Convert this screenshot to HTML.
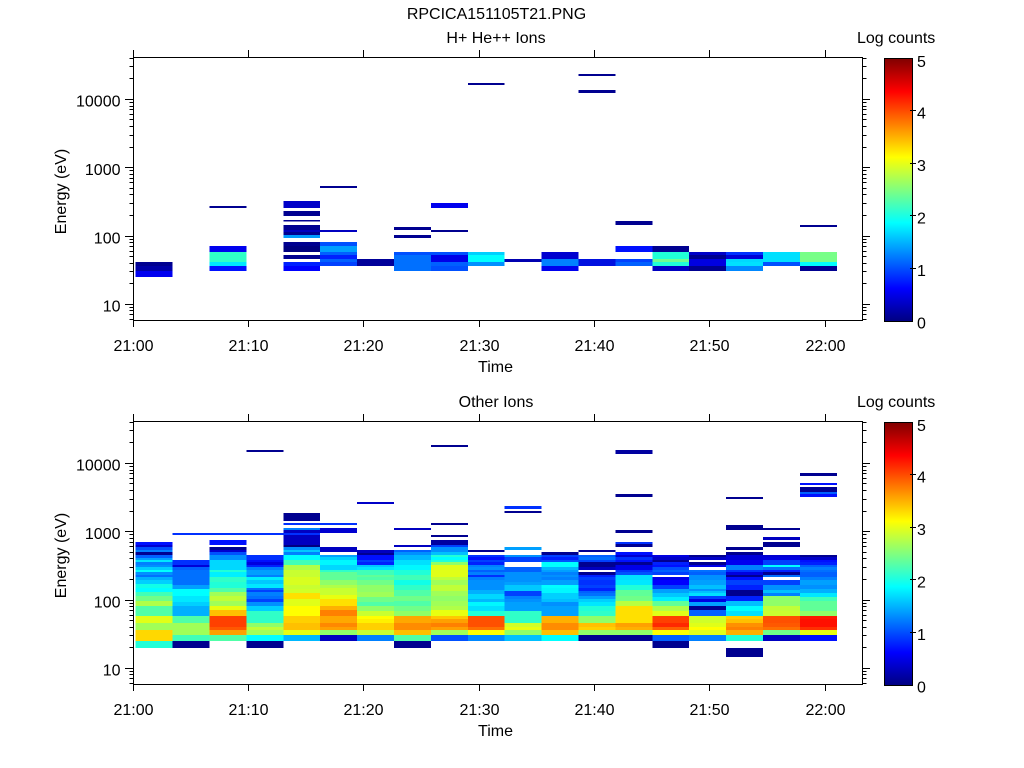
<!DOCTYPE html>
<html><head><meta charset="utf-8"><style>
html,body{margin:0;padding:0;background:#fff;}
svg{display:block;}
text{font-family:"Liberation Sans",Arial,sans-serif;font-size:16px;fill:#000;}
</style></head><body>
<svg width="1024" height="768" viewBox="0 0 1024 768" xmlns="http://www.w3.org/2000/svg">
<defs>
<linearGradient id="jet" x1="0" y1="1" x2="0" y2="0">
<stop offset="0" stop-color="#000080"/>
<stop offset="0.125" stop-color="#0000ff"/>
<stop offset="0.375" stop-color="#00ffff"/>
<stop offset="0.625" stop-color="#ffff00"/>
<stop offset="0.875" stop-color="#ff0000"/>
<stop offset="1" stop-color="#800000"/>
</linearGradient>
</defs>
<rect width="1024" height="768" fill="#fff"/>

<text x="496.5" y="19" text-anchor="middle">RPCICA151105T21.PNG</text>

<!-- ============ TOP PANEL DATA ============ -->
<g shape-rendering="crispEdges">
<g transform="translate(135.7 0)"><rect y="262" width="36.9" height="4" fill="#000090"/><rect y="266" width="36.9" height="5" fill="#0000a8"/><rect y="271" width="36.9" height="6" fill="#0000f0"/></g>
<g transform="translate(209.5 0)"><rect y="206" width="36.9" height="2" fill="#000090"/><rect y="246" width="36.9" height="6" fill="#0000ee"/><rect y="252" width="36.9" height="10" fill="#30ffc8"/><rect y="262" width="36.9" height="4" fill="#00e8ff"/><rect y="266" width="36.9" height="5" fill="#0010ff"/></g>
<g transform="translate(283.3 0)"><rect y="201" width="36.9" height="7" fill="#0000c8"/><rect y="211" width="36.9" height="5" fill="#000090"/><rect y="220" width="36.9" height="1.5" fill="#000090"/><rect y="225" width="36.9" height="5" fill="#000090"/><rect y="230" width="36.9" height="2" fill="#0000c0"/><rect y="232" width="36.9" height="3" fill="#000090"/><rect y="235" width="36.9" height="3" fill="#0099ff"/><rect y="242" width="36.9" height="4" fill="#000090"/><rect y="246" width="36.9" height="6" fill="#000080"/><rect y="255" width="36.9" height="4" fill="#000090"/><rect y="262" width="36.9" height="4" fill="#0020ff"/><rect y="266" width="36.9" height="5" fill="#0000ff"/></g>
<g transform="translate(320.2 0)"><rect y="186" width="36.9" height="2" fill="#000090"/><rect y="230" width="36.9" height="2" fill="#0000c0"/><rect y="242" width="36.9" height="4" fill="#0050ff"/><rect y="246" width="36.9" height="6" fill="#00a0ff"/><rect y="252" width="36.9" height="3" fill="#0060ff"/><rect y="255" width="36.9" height="4" fill="#0020ff"/><rect y="259" width="36.9" height="3" fill="#0060ff"/><rect y="262" width="36.9" height="4" fill="#0040ff"/></g>
<g transform="translate(357.1 0)"><rect y="259" width="36.9" height="7" fill="#00009a"/></g>
<g transform="translate(394.0 0)"><rect y="227" width="36.9" height="3" fill="#000090"/><rect y="235" width="36.9" height="3" fill="#000090"/><rect y="252" width="36.9" height="3" fill="#0050ff"/><rect y="255" width="36.9" height="16" fill="#0070ff"/></g>
<g transform="translate(430.9 0)"><rect y="203" width="36.9" height="5" fill="#0000ee"/><rect y="230" width="36.9" height="2" fill="#000090"/><rect y="252" width="36.9" height="3" fill="#0050ff"/><rect y="255" width="36.9" height="7" fill="#0000e8"/><rect y="262" width="36.9" height="4" fill="#0060ff"/><rect y="266" width="36.9" height="5" fill="#0050ff"/></g>
<g transform="translate(467.8 0)"><rect y="83" width="36.9" height="2" fill="#000090"/><rect y="252" width="36.9" height="3" fill="#00d0ff"/><rect y="255" width="36.9" height="7" fill="#00ffff"/><rect y="262" width="36.9" height="4" fill="#0090ff"/></g>
<g transform="translate(504.7 0)"><rect y="259" width="36.9" height="3" fill="#0000b0"/></g>
<g transform="translate(541.6 0)"><rect y="252" width="36.9" height="7" fill="#0000d0"/><rect y="259" width="36.9" height="7" fill="#0080ff"/><rect y="266" width="36.9" height="5" fill="#0000ee"/></g>
<g transform="translate(578.5 0)"><rect y="74" width="36.9" height="2" fill="#000090"/><rect y="90" width="36.9" height="3" fill="#000090"/><rect y="259" width="36.9" height="7" fill="#0010e0"/></g>
<g transform="translate(615.4 0)"><rect y="221" width="36.9" height="4" fill="#000090"/><rect y="246" width="36.9" height="6" fill="#0010ff"/><rect y="259" width="36.9" height="3" fill="#0040ff"/><rect y="262" width="36.9" height="4" fill="#0060ff"/></g>
<g transform="translate(652.3 0)"><rect y="246" width="36.9" height="6" fill="#000090"/><rect y="252" width="36.9" height="7" fill="#20ffd8"/><rect y="259" width="36.9" height="3" fill="#70ff90"/><rect y="262" width="36.9" height="4" fill="#20ffd8"/><rect y="266" width="36.9" height="5" fill="#0000c0"/></g>
<g transform="translate(689.2 0)"><rect y="252" width="36.9" height="3" fill="#0000c8"/><rect y="255" width="36.9" height="4" fill="#000090"/><rect y="259" width="36.9" height="7" fill="#0000e0"/><rect y="266" width="36.9" height="5" fill="#000090"/></g>
<g transform="translate(726.1 0)"><rect y="252" width="36.9" height="3" fill="#0030ff"/><rect y="255" width="36.9" height="4" fill="#0000d8"/><rect y="259" width="36.9" height="3" fill="#00d8ff"/><rect y="262" width="36.9" height="4" fill="#00e0ff"/><rect y="266" width="36.9" height="5" fill="#0088ff"/></g>
<g transform="translate(763.0 0)"><rect y="252" width="36.9" height="10" fill="#00e0ff"/><rect y="262" width="36.9" height="4" fill="#0050ff"/></g>
<g transform="translate(799.9 0)"><rect y="225" width="36.9" height="2" fill="#000090"/><rect y="252" width="36.9" height="10" fill="#78ff88"/><rect y="262" width="36.9" height="4" fill="#00ffff"/><rect y="266" width="36.9" height="5" fill="#000090"/></g>
</g>

<!-- ============ BOTTOM PANEL DATA ============ -->
<g shape-rendering="crispEdges">
<g transform="translate(135.7 0)">
<rect y="542" width="36.9" height="3" fill="#0010ff"/><rect y="545" width="36.9" height="2" fill="#0000d0"/><rect y="547" width="36.9" height="3" fill="#0050ff"/><rect y="550" width="36.9" height="2" fill="#0080ff"/><rect y="552" width="36.9" height="3" fill="#000090"/><rect y="555" width="36.9" height="3" fill="#0060ff"/><rect y="558" width="36.9" height="2" fill="#00a0ff"/><rect y="560" width="36.9" height="2" fill="#00e8ff"/><rect y="562" width="36.9" height="3" fill="#0080ff"/><rect y="565" width="36.9" height="2" fill="#0090ff"/><rect y="567" width="36.9" height="3" fill="#00d0ff"/><rect y="570" width="36.9" height="2" fill="#00ffff"/><rect y="572" width="36.9" height="3" fill="#0090ff"/><rect y="575" width="36.9" height="2" fill="#0070ff"/><rect y="577" width="36.9" height="3" fill="#00b0ff"/><rect y="580" width="36.9" height="4" fill="#00d0ff"/><rect y="584" width="36.9" height="4" fill="#10ffe8"/><rect y="588" width="36.9" height="4" fill="#00ffff"/><rect y="592" width="36.9" height="4" fill="#40ffb8"/><rect y="596" width="36.9" height="5" fill="#70ff88"/><rect y="601" width="36.9" height="5" fill="#b0ff48"/><rect y="606" width="36.9" height="10" fill="#50ffa8"/><rect y="616" width="36.9" height="7" fill="#e0ff18"/><rect y="623" width="36.9" height="7" fill="#a0ff58"/><rect y="630" width="36.9" height="11" fill="#ffd800"/><rect y="641" width="36.9" height="7" fill="#20ffd8"/></g>
<g transform="translate(172.6 0)">
<rect y="533" width="36.9" height="2" fill="#0030ff"/><rect y="560" width="36.9" height="5" fill="#0030ff"/><rect y="565" width="36.9" height="2" fill="#0000d8"/><rect y="567" width="36.9" height="3" fill="#0060ff"/><rect y="570" width="36.9" height="15" fill="#0070ff"/><rect y="585" width="36.9" height="4" fill="#00a0ff"/><rect y="589" width="36.9" height="7" fill="#00ffff"/><rect y="596" width="36.9" height="6" fill="#00e8ff"/><rect y="602" width="36.9" height="4" fill="#00d0ff"/><rect y="606" width="36.9" height="10" fill="#00b0ff"/><rect y="616" width="36.9" height="7" fill="#50ffa8"/><rect y="623" width="36.9" height="12" fill="#a0ff58"/><rect y="635" width="36.9" height="6" fill="#40ffb8"/><rect y="641" width="36.9" height="7" fill="#000090"/></g>
<g transform="translate(209.5 0)">
<rect y="533" width="36.9" height="2" fill="#0030ff"/><rect y="540" width="36.9" height="5" fill="#0010ff"/><rect y="547" width="36.9" height="3" fill="#000090"/><rect y="550" width="36.9" height="2" fill="#0000d0"/><rect y="552" width="36.9" height="3" fill="#0050ff"/><rect y="555" width="36.9" height="5" fill="#0090ff"/><rect y="560" width="36.9" height="10" fill="#00d8ff"/><rect y="570" width="36.9" height="2" fill="#20ffd8"/><rect y="572" width="36.9" height="5" fill="#00f0ff"/><rect y="577" width="36.9" height="5" fill="#30ffc8"/><rect y="582" width="36.9" height="6" fill="#20ffd8"/><rect y="588" width="36.9" height="4" fill="#50ffa8"/><rect y="592" width="36.9" height="4" fill="#a0ff58"/><rect y="596" width="36.9" height="5" fill="#c0ff38"/><rect y="601" width="36.9" height="5" fill="#a0ff58"/><rect y="606" width="36.9" height="4" fill="#e8ff10"/><rect y="610" width="36.9" height="6" fill="#ffc000"/><rect y="616" width="36.9" height="11" fill="#ff4000"/><rect y="627" width="36.9" height="3" fill="#ff5800"/><rect y="630" width="36.9" height="5" fill="#ffa000"/><rect y="635" width="36.9" height="6" fill="#50ffa8"/></g>
<g transform="translate(246.4 0)">
<rect y="450" width="36.9" height="2" fill="#000090"/><rect y="533" width="36.9" height="2" fill="#0030ff"/><rect y="555" width="36.9" height="5" fill="#0030ff"/><rect y="560" width="36.9" height="2" fill="#0010ff"/><rect y="562" width="36.9" height="3" fill="#0000e0"/><rect y="565" width="36.9" height="2" fill="#0020ff"/><rect y="567" width="36.9" height="3" fill="#0080ff"/><rect y="570" width="36.9" height="5" fill="#00a0ff"/><rect y="575" width="36.9" height="2" fill="#0080ff"/><rect y="577" width="36.9" height="3" fill="#00f0ff"/><rect y="580" width="36.9" height="4" fill="#00c8ff"/><rect y="584" width="36.9" height="4" fill="#00e8ff"/><rect y="588" width="36.9" height="2" fill="#0070ff"/><rect y="590" width="36.9" height="2" fill="#0040ff"/><rect y="592" width="36.9" height="4" fill="#0080ff"/><rect y="596" width="36.9" height="3" fill="#0070ff"/><rect y="599" width="36.9" height="3" fill="#0040ff"/><rect y="602" width="36.9" height="4" fill="#0090ff"/><rect y="606" width="36.9" height="5" fill="#00d0ff"/><rect y="611" width="36.9" height="12" fill="#30ffc8"/><rect y="623" width="36.9" height="4" fill="#90ff68"/><rect y="627" width="36.9" height="3" fill="#c0ff38"/><rect y="630" width="36.9" height="5" fill="#a0ff58"/><rect y="635" width="36.9" height="6" fill="#00ffff"/><rect y="641" width="36.9" height="7" fill="#000090"/></g>
<g transform="translate(283.3 0)">
<rect y="513" width="36.9" height="8" fill="#000090"/><rect y="523" width="36.9" height="2" fill="#0030ff"/><rect y="528" width="36.9" height="2" fill="#0080ff"/><rect y="530" width="36.9" height="3" fill="#0000c0"/><rect y="533" width="36.9" height="2" fill="#0030ff"/><rect y="535" width="36.9" height="10" fill="#0000c0"/><rect y="545" width="36.9" height="2" fill="#000080"/><rect y="547" width="36.9" height="3" fill="#0090ff"/><rect y="550" width="36.9" height="2" fill="#00c8ff"/><rect y="552" width="36.9" height="3" fill="#0080ff"/><rect y="555" width="36.9" height="5" fill="#00ffff"/><rect y="560" width="36.9" height="5" fill="#40ffb8"/><rect y="565" width="36.9" height="5" fill="#b0ff48"/><rect y="570" width="36.9" height="7" fill="#c8ff30"/><rect y="577" width="36.9" height="8" fill="#d8ff20"/><rect y="585" width="36.9" height="4" fill="#c8ff30"/><rect y="589" width="36.9" height="4" fill="#d0ff28"/><rect y="593" width="36.9" height="6" fill="#ffe000"/><rect y="599" width="36.9" height="7" fill="#e0ff18"/><rect y="606" width="36.9" height="10" fill="#ffff00"/><rect y="616" width="36.9" height="7" fill="#ffd000"/><rect y="623" width="36.9" height="7" fill="#ffc000"/><rect y="630" width="36.9" height="5" fill="#e8ff10"/><rect y="635" width="36.9" height="6" fill="#00b8ff"/></g>
<g transform="translate(320.2 0)">
<rect y="523" width="36.9" height="2" fill="#0030ff"/><rect y="528" width="36.9" height="5" fill="#0000d0"/><rect y="547" width="36.9" height="5" fill="#0000c0"/><rect y="555" width="36.9" height="2" fill="#00a0ff"/><rect y="557" width="36.9" height="3" fill="#00d0ff"/><rect y="560" width="36.9" height="5" fill="#00f8ff"/><rect y="565" width="36.9" height="5" fill="#00d8ff"/><rect y="570" width="36.9" height="2" fill="#30ffc8"/><rect y="572" width="36.9" height="8" fill="#60ff98"/><rect y="580" width="36.9" height="5" fill="#90ff68"/><rect y="585" width="36.9" height="3" fill="#b0ff48"/><rect y="588" width="36.9" height="7" fill="#c8ff30"/><rect y="595" width="36.9" height="4" fill="#e8ff10"/><rect y="599" width="36.9" height="7" fill="#ffe000"/><rect y="606" width="36.9" height="4" fill="#ffb000"/><rect y="610" width="36.9" height="6" fill="#ff8000"/><rect y="616" width="36.9" height="7" fill="#ffa800"/><rect y="623" width="36.9" height="4" fill="#ff8800"/><rect y="627" width="36.9" height="3" fill="#ffa000"/><rect y="630" width="36.9" height="5" fill="#90ff68"/><rect y="635" width="36.9" height="6" fill="#0000c0"/></g>
<g transform="translate(357.1 0)">
<rect y="502" width="36.9" height="2" fill="#0000c8"/><rect y="550" width="36.9" height="3" fill="#0000c0"/><rect y="553" width="36.9" height="2" fill="#000090"/><rect y="555" width="36.9" height="5" fill="#0010ff"/><rect y="560" width="36.9" height="2" fill="#0040ff"/><rect y="562" width="36.9" height="3" fill="#0020ff"/><rect y="565" width="36.9" height="2" fill="#00c8ff"/><rect y="567" width="36.9" height="3" fill="#00e8ff"/><rect y="570" width="36.9" height="5" fill="#40ffb8"/><rect y="575" width="36.9" height="2" fill="#60ff98"/><rect y="577" width="36.9" height="3" fill="#50ffa8"/><rect y="580" width="36.9" height="5" fill="#70ff88"/><rect y="585" width="36.9" height="7" fill="#90ff68"/><rect y="592" width="36.9" height="5" fill="#a0ff58"/><rect y="597" width="36.9" height="5" fill="#70ff88"/><rect y="602" width="36.9" height="4" fill="#50ffa8"/><rect y="606" width="36.9" height="5" fill="#90ff68"/><rect y="611" width="36.9" height="5" fill="#c8ff30"/><rect y="616" width="36.9" height="3" fill="#ffff00"/><rect y="619" width="36.9" height="4" fill="#fff000"/><rect y="623" width="36.9" height="7" fill="#ffd000"/><rect y="630" width="36.9" height="5" fill="#c8ff30"/><rect y="635" width="36.9" height="6" fill="#0080ff"/></g>
<g transform="translate(394.0 0)">
<rect y="528" width="36.9" height="2" fill="#0000c0"/><rect y="545" width="36.9" height="2" fill="#0000c0"/><rect y="550" width="36.9" height="2" fill="#0060ff"/><rect y="552" width="36.9" height="3" fill="#0090ff"/><rect y="555" width="36.9" height="5" fill="#00b8ff"/><rect y="560" width="36.9" height="5" fill="#00e0ff"/><rect y="565" width="36.9" height="5" fill="#00f8ff"/><rect y="570" width="36.9" height="5" fill="#20ffd8"/><rect y="575" width="36.9" height="5" fill="#40ffb8"/><rect y="580" width="36.9" height="5" fill="#10ffe8"/><rect y="585" width="36.9" height="5" fill="#30ffc8"/><rect y="590" width="36.9" height="6" fill="#50ffa8"/><rect y="596" width="36.9" height="5" fill="#70ff88"/><rect y="601" width="36.9" height="5" fill="#50ffa8"/><rect y="606" width="36.9" height="5" fill="#70ff88"/><rect y="611" width="36.9" height="5" fill="#90ff68"/><rect y="616" width="36.9" height="7" fill="#ffa800"/><rect y="623" width="36.9" height="7" fill="#ff8c00"/><rect y="630" width="36.9" height="5" fill="#ffc000"/><rect y="635" width="36.9" height="6" fill="#50ffa8"/><rect y="641" width="36.9" height="7" fill="#000090"/></g>
<g transform="translate(430.9 0)">
<rect y="445" width="36.9" height="2" fill="#000090"/><rect y="523" width="36.9" height="2" fill="#000090"/><rect y="535" width="36.9" height="2" fill="#000090"/><rect y="540" width="36.9" height="5" fill="#0000a0"/><rect y="545" width="36.9" height="2" fill="#0040ff"/><rect y="547" width="36.9" height="5" fill="#0090ff"/><rect y="552" width="36.9" height="3" fill="#00c0ff"/><rect y="555" width="36.9" height="2" fill="#20ffd8"/><rect y="557" width="36.9" height="3" fill="#00ffff"/><rect y="560" width="36.9" height="2" fill="#20ffd8"/><rect y="562" width="36.9" height="3" fill="#90ff68"/><rect y="565" width="36.9" height="12" fill="#e0ff18"/><rect y="577" width="36.9" height="3" fill="#c0ff38"/><rect y="580" width="36.9" height="5" fill="#a0ff58"/><rect y="585" width="36.9" height="6" fill="#c0ff38"/><rect y="591" width="36.9" height="5" fill="#a0ff58"/><rect y="596" width="36.9" height="5" fill="#90ff68"/><rect y="601" width="36.9" height="5" fill="#a0ff58"/><rect y="606" width="36.9" height="4" fill="#b0ff48"/><rect y="610" width="36.9" height="6" fill="#e8ff10"/><rect y="616" width="36.9" height="3" fill="#ffc800"/><rect y="619" width="36.9" height="4" fill="#ffa000"/><rect y="623" width="36.9" height="4" fill="#ff8000"/><rect y="627" width="36.9" height="3" fill="#ffa000"/><rect y="630" width="36.9" height="5" fill="#a0ff58"/><rect y="635" width="36.9" height="6" fill="#0050ff"/></g>
<g transform="translate(467.8 0)">
<rect y="550" width="36.9" height="2" fill="#000090"/><rect y="555" width="36.9" height="2" fill="#0030ff"/><rect y="557" width="36.9" height="3" fill="#0010ff"/><rect y="560" width="36.9" height="2" fill="#0040ff"/><rect y="562" width="36.9" height="3" fill="#0020ff"/><rect y="565" width="36.9" height="2" fill="#0080ff"/><rect y="567" width="36.9" height="3" fill="#0090ff"/><rect y="570" width="36.9" height="2" fill="#0060ff"/><rect y="572" width="36.9" height="3" fill="#0080ff"/><rect y="575" width="36.9" height="2" fill="#0030ff"/><rect y="577" width="36.9" height="3" fill="#0080ff"/><rect y="580" width="36.9" height="10" fill="#0090ff"/><rect y="590" width="36.9" height="4" fill="#00b0ff"/><rect y="594" width="36.9" height="5" fill="#00d8ff"/><rect y="599" width="36.9" height="3" fill="#00b8ff"/><rect y="602" width="36.9" height="4" fill="#00f8ff"/><rect y="606" width="36.9" height="5" fill="#00e0ff"/><rect y="611" width="36.9" height="5" fill="#20ffd8"/><rect y="616" width="36.9" height="11" fill="#ff5000"/><rect y="627" width="36.9" height="3" fill="#ff7000"/><rect y="630" width="36.9" height="5" fill="#ffff00"/><rect y="635" width="36.9" height="6" fill="#0088ff"/></g>
<g transform="translate(504.7 0)">
<rect y="506" width="36.9" height="3" fill="#0030ff"/><rect y="511" width="36.9" height="2" fill="#000090"/><rect y="547" width="36.9" height="3" fill="#00a0ff"/><rect y="555" width="36.9" height="2" fill="#0090ff"/><rect y="557" width="36.9" height="5" fill="#0040ff"/><rect y="567" width="36.9" height="5" fill="#0060ff"/><rect y="572" width="36.9" height="10" fill="#0090ff"/><rect y="582" width="36.9" height="3" fill="#00a0ff"/><rect y="585" width="36.9" height="6" fill="#00c8ff"/><rect y="591" width="36.9" height="5" fill="#0040ff"/><rect y="596" width="36.9" height="3" fill="#0080ff"/><rect y="599" width="36.9" height="3" fill="#0090ff"/><rect y="602" width="36.9" height="9" fill="#00a0ff"/><rect y="611" width="36.9" height="12" fill="#30ffc8"/><rect y="623" width="36.9" height="4" fill="#d0ff28"/><rect y="627" width="36.9" height="3" fill="#e8ff10"/><rect y="630" width="36.9" height="5" fill="#90ff68"/><rect y="635" width="36.9" height="6" fill="#00c0ff"/></g>
<g transform="translate(541.6 0)">
<rect y="552" width="36.9" height="3" fill="#000090"/><rect y="555" width="36.9" height="2" fill="#0040ff"/><rect y="557" width="36.9" height="3" fill="#0020ff"/><rect y="560" width="36.9" height="2" fill="#0050ff"/><rect y="562" width="36.9" height="5" fill="#00ffff"/><rect y="567" width="36.9" height="3" fill="#00b8ff"/><rect y="570" width="36.9" height="2" fill="#00a0ff"/><rect y="572" width="36.9" height="3" fill="#0080ff"/><rect y="575" width="36.9" height="2" fill="#0090ff"/><rect y="577" width="36.9" height="3" fill="#0080ff"/><rect y="580" width="36.9" height="5" fill="#00a0ff"/><rect y="585" width="36.9" height="3" fill="#00ffff"/><rect y="588" width="36.9" height="5" fill="#00f8ff"/><rect y="593" width="36.9" height="6" fill="#00d0ff"/><rect y="599" width="36.9" height="3" fill="#00c0ff"/><rect y="602" width="36.9" height="4" fill="#0090ff"/><rect y="606" width="36.9" height="10" fill="#00a0ff"/><rect y="616" width="36.9" height="7" fill="#ffb000"/><rect y="623" width="36.9" height="7" fill="#ff8c00"/><rect y="630" width="36.9" height="5" fill="#ffc000"/><rect y="635" width="36.9" height="6" fill="#00ffff"/></g>
<g transform="translate(578.5 0)">
<rect y="550" width="36.9" height="2" fill="#000090"/><rect y="555" width="36.9" height="2" fill="#0060ff"/><rect y="557" width="36.9" height="3" fill="#0070ff"/><rect y="560" width="36.9" height="2" fill="#0040ff"/><rect y="562" width="36.9" height="5" fill="#000090"/><rect y="567" width="36.9" height="3" fill="#0000c0"/><rect y="572" width="36.9" height="3" fill="#000090"/><rect y="575" width="36.9" height="2" fill="#0020ff"/><rect y="577" width="36.9" height="3" fill="#0040ff"/><rect y="580" width="36.9" height="5" fill="#0030ff"/><rect y="585" width="36.9" height="3" fill="#0040ff"/><rect y="588" width="36.9" height="3" fill="#0020ff"/><rect y="591" width="36.9" height="2" fill="#0060ff"/><rect y="593" width="36.9" height="3" fill="#0070ff"/><rect y="596" width="36.9" height="3" fill="#00a0ff"/><rect y="599" width="36.9" height="3" fill="#00d0ff"/><rect y="602" width="36.9" height="4" fill="#00e8ff"/><rect y="606" width="36.9" height="5" fill="#20ffd8"/><rect y="611" width="36.9" height="5" fill="#30ffc8"/><rect y="616" width="36.9" height="7" fill="#90ff68"/><rect y="623" width="36.9" height="4" fill="#ffc000"/><rect y="627" width="36.9" height="3" fill="#ffd000"/><rect y="630" width="36.9" height="5" fill="#90ff68"/><rect y="635" width="36.9" height="6" fill="#000090"/></g>
<g transform="translate(615.4 0)">
<rect y="450" width="36.9" height="4" fill="#0000a0"/><rect y="494" width="36.9" height="3" fill="#000090"/><rect y="530" width="36.9" height="3" fill="#000090"/><rect y="542" width="36.9" height="2" fill="#0030ff"/><rect y="544" width="36.9" height="3" fill="#000090"/><rect y="552" width="36.9" height="3" fill="#0010ff"/><rect y="555" width="36.9" height="2" fill="#0000d0"/><rect y="557" width="36.9" height="3" fill="#0030ff"/><rect y="560" width="36.9" height="2" fill="#0010ff"/><rect y="562" width="36.9" height="3" fill="#000090"/><rect y="565" width="36.9" height="5" fill="#0000e8"/><rect y="570" width="36.9" height="2" fill="#0030ff"/><rect y="572" width="36.9" height="3" fill="#0050ff"/><rect y="575" width="36.9" height="5" fill="#00e0ff"/><rect y="580" width="36.9" height="5" fill="#00e8ff"/><rect y="585" width="36.9" height="5" fill="#20ffd8"/><rect y="590" width="36.9" height="6" fill="#60ff98"/><rect y="596" width="36.9" height="5" fill="#70ff88"/><rect y="601" width="36.9" height="5" fill="#b8ff40"/><rect y="606" width="36.9" height="17" fill="#ffe000"/><rect y="623" width="36.9" height="4" fill="#ffa000"/><rect y="627" width="36.9" height="3" fill="#ffb000"/><rect y="630" width="36.9" height="5" fill="#90ff68"/><rect y="635" width="36.9" height="6" fill="#000090"/></g>
<g transform="translate(652.3 0)">
<rect y="555" width="36.9" height="2" fill="#0000e0"/><rect y="557" width="36.9" height="3" fill="#0000c8"/><rect y="560" width="36.9" height="2" fill="#000090"/><rect y="562" width="36.9" height="3" fill="#0020ff"/><rect y="565" width="36.9" height="2" fill="#0010ff"/><rect y="567" width="36.9" height="3" fill="#0050ff"/><rect y="570" width="36.9" height="2" fill="#0060ff"/><rect y="572" width="36.9" height="3" fill="#0040ff"/><rect y="577" width="36.9" height="3" fill="#0000e8"/><rect y="580" width="36.9" height="5" fill="#0000ff"/><rect y="585" width="36.9" height="4" fill="#0040ff"/><rect y="589" width="36.9" height="4" fill="#00a0ff"/><rect y="593" width="36.9" height="4" fill="#00c8ff"/><rect y="597" width="36.9" height="4" fill="#00f0ff"/><rect y="601" width="36.9" height="5" fill="#60ff98"/><rect y="606" width="36.9" height="5" fill="#b0ff48"/><rect y="611" width="36.9" height="5" fill="#e0ff18"/><rect y="616" width="36.9" height="7" fill="#ff4000"/><rect y="623" width="36.9" height="4" fill="#ff2800"/><rect y="627" width="36.9" height="3" fill="#ff6000"/><rect y="630" width="36.9" height="5" fill="#ffff00"/><rect y="635" width="36.9" height="6" fill="#0060ff"/><rect y="641" width="36.9" height="7" fill="#000090"/></g>
<g transform="translate(689.2 0)">
<rect y="555" width="36.9" height="2" fill="#000090"/><rect y="557" width="36.9" height="3" fill="#0000c8"/><rect y="562" width="36.9" height="3" fill="#000090"/><rect y="565" width="36.9" height="2" fill="#0000e8"/><rect y="570" width="36.9" height="2" fill="#0070ff"/><rect y="572" width="36.9" height="3" fill="#0060ff"/><rect y="575" width="36.9" height="5" fill="#0090ff"/><rect y="580" width="36.9" height="5" fill="#00a0ff"/><rect y="585" width="36.9" height="4" fill="#00c0ff"/><rect y="589" width="36.9" height="2" fill="#0090ff"/><rect y="591" width="36.9" height="2" fill="#00c0ff"/><rect y="593" width="36.9" height="3" fill="#00e0ff"/><rect y="596" width="36.9" height="3" fill="#0040ff"/><rect y="599" width="36.9" height="3" fill="#0000e0"/><rect y="602" width="36.9" height="4" fill="#00a0ff"/><rect y="606" width="36.9" height="4" fill="#000090"/><rect y="610" width="36.9" height="6" fill="#0060ff"/><rect y="616" width="36.9" height="7" fill="#d0ff28"/><rect y="623" width="36.9" height="4" fill="#e0ff18"/><rect y="627" width="36.9" height="3" fill="#ffff00"/><rect y="630" width="36.9" height="5" fill="#e0ff18"/><rect y="635" width="36.9" height="6" fill="#0080ff"/></g>
<g transform="translate(726.1 0)">
<rect y="497" width="36.9" height="2" fill="#000090"/><rect y="525" width="36.9" height="5" fill="#000090"/><rect y="547" width="36.9" height="3" fill="#000090"/><rect y="552" width="36.9" height="3" fill="#000090"/><rect y="555" width="36.9" height="5" fill="#0000d8"/><rect y="560" width="36.9" height="5" fill="#0000f0"/><rect y="565" width="36.9" height="5" fill="#0080ff"/><rect y="570" width="36.9" height="2" fill="#0030ff"/><rect y="572" width="36.9" height="3" fill="#0000e0"/><rect y="575" width="36.9" height="2" fill="#000090"/><rect y="577" width="36.9" height="3" fill="#0010ff"/><rect y="580" width="36.9" height="5" fill="#0040ff"/><rect y="585" width="36.9" height="5" fill="#0020ff"/><rect y="590" width="36.9" height="6" fill="#000090"/><rect y="596" width="36.9" height="5" fill="#0020ff"/><rect y="601" width="36.9" height="5" fill="#00c0ff"/><rect y="606" width="36.9" height="5" fill="#00ffff"/><rect y="611" width="36.9" height="5" fill="#00e0ff"/><rect y="616" width="36.9" height="3" fill="#ffd000"/><rect y="619" width="36.9" height="4" fill="#ffc000"/><rect y="623" width="36.9" height="4" fill="#ff9000"/><rect y="627" width="36.9" height="3" fill="#ff8000"/><rect y="630" width="36.9" height="5" fill="#ffb000"/><rect y="635" width="36.9" height="6" fill="#20ffd8"/><rect y="648" width="36.9" height="9" fill="#000090"/></g>
<g transform="translate(763.0 0)">
<rect y="528" width="36.9" height="2" fill="#000090"/><rect y="537" width="36.9" height="3" fill="#0000c0"/><rect y="542" width="36.9" height="5" fill="#000090"/><rect y="555" width="36.9" height="2" fill="#0000d0"/><rect y="557" width="36.9" height="3" fill="#0000e0"/><rect y="560" width="36.9" height="5" fill="#0040ff"/><rect y="565" width="36.9" height="2" fill="#00ffff"/><rect y="567" width="36.9" height="3" fill="#0070ff"/><rect y="570" width="36.9" height="2" fill="#0020ff"/><rect y="572" width="36.9" height="3" fill="#000090"/><rect y="575" width="36.9" height="2" fill="#0070ff"/><rect y="580" width="36.9" height="5" fill="#0040ff"/><rect y="585" width="36.9" height="5" fill="#0090ff"/><rect y="590" width="36.9" height="3" fill="#00c0ff"/><rect y="593" width="36.9" height="3" fill="#0080ff"/><rect y="596" width="36.9" height="10" fill="#90ff68"/><rect y="606" width="36.9" height="5" fill="#c0ff38"/><rect y="611" width="36.9" height="5" fill="#c8ff30"/><rect y="616" width="36.9" height="7" fill="#ff5000"/><rect y="623" width="36.9" height="4" fill="#ff5800"/><rect y="627" width="36.9" height="3" fill="#ff7000"/><rect y="630" width="36.9" height="5" fill="#70ff88"/><rect y="635" width="36.9" height="6" fill="#0000c0"/></g>
<g transform="translate(799.9 0)">
<rect y="473" width="36.9" height="3" fill="#000090"/><rect y="483" width="36.9" height="2" fill="#0010ff"/><rect y="487" width="36.9" height="5" fill="#000090"/><rect y="492" width="36.9" height="2" fill="#0060ff"/><rect y="494" width="36.9" height="3" fill="#0010ff"/><rect y="555" width="36.9" height="2" fill="#000090"/><rect y="557" width="36.9" height="3" fill="#0000c8"/><rect y="560" width="36.9" height="2" fill="#0010ff"/><rect y="562" width="36.9" height="3" fill="#0020ff"/><rect y="565" width="36.9" height="2" fill="#0060ff"/><rect y="567" width="36.9" height="3" fill="#0080ff"/><rect y="570" width="36.9" height="2" fill="#0070ff"/><rect y="572" width="36.9" height="5" fill="#0060ff"/><rect y="577" width="36.9" height="3" fill="#0080ff"/><rect y="580" width="36.9" height="5" fill="#00a0ff"/><rect y="585" width="36.9" height="4" fill="#0090ff"/><rect y="589" width="36.9" height="4" fill="#00b0ff"/><rect y="593" width="36.9" height="4" fill="#00e8ff"/><rect y="597" width="36.9" height="4" fill="#40ffb8"/><rect y="601" width="36.9" height="10" fill="#60ff98"/><rect y="611" width="36.9" height="5" fill="#90ff68"/><rect y="616" width="36.9" height="3" fill="#ff1800"/><rect y="619" width="36.9" height="8" fill="#ff1000"/><rect y="627" width="36.9" height="3" fill="#ff3000"/><rect y="630" width="36.9" height="5" fill="#e8ff10"/><rect y="635" width="36.9" height="6" fill="#0010ff"/></g>
</g>

<!-- ============ AXES (top panel) ============ -->
<g fill="none" stroke="#000" stroke-width="1" shape-rendering="crispEdges">
<rect x="133.5" y="57.5" width="729" height="263"/>
<path d="M133.5 320V327M248.5 320V327M363.5 320V327M479.5 320V327M594.5 320V327M709.5 320V327M825.5 320V327M133.5 57V50M248.5 57V50M363.5 57V50M479.5 57V50M594.5 57V50M709.5 57V50M825.5 57V50"/>
<path d="M125 304.5H133.5M125 236.5H133.5M125 167.5H133.5M125 99.5H133.5M862.5 304.5H870M862.5 236.5H870M862.5 167.5H870M862.5 99.5H870"/>
<path d="M129.5 319.5H133.5M129.5 314.5H133.5M129.5 310.5H133.5M129.5 307.5H133.5M129.5 283.5H133.5M129.5 271.5H133.5M129.5 263.5H133.5M129.5 256.5H133.5M129.5 251.5H133.5M129.5 246.5H133.5M129.5 242.5H133.5M129.5 239.5H133.5M129.5 215.5H133.5M129.5 203.5H133.5M129.5 194.5H133.5M129.5 188.5H133.5M129.5 182.5H133.5M129.5 178.5H133.5M129.5 174.5H133.5M129.5 170.5H133.5M129.5 147.5H133.5M129.5 135.5H133.5M129.5 126.5H133.5M129.5 119.5H133.5M129.5 114.5H133.5M129.5 109.5H133.5M129.5 106.5H133.5M129.5 102.5H133.5M129.5 78.5H133.5M129.5 66.5H133.5M129.5 58.5H133.5"/>
<path d="M862.5 319.5H866.5M862.5 314.5H866.5M862.5 310.5H866.5M862.5 307.5H866.5M862.5 283.5H866.5M862.5 271.5H866.5M862.5 263.5H866.5M862.5 256.5H866.5M862.5 251.5H866.5M862.5 246.5H866.5M862.5 242.5H866.5M862.5 239.5H866.5M862.5 215.5H866.5M862.5 203.5H866.5M862.5 194.5H866.5M862.5 188.5H866.5M862.5 182.5H866.5M862.5 178.5H866.5M862.5 174.5H866.5M862.5 170.5H866.5M862.5 147.5H866.5M862.5 135.5H866.5M862.5 126.5H866.5M862.5 119.5H866.5M862.5 114.5H866.5M862.5 109.5H866.5M862.5 106.5H866.5M862.5 102.5H866.5M862.5 78.5H866.5M862.5 66.5H866.5M862.5 58.5H866.5"/>
<rect x="884.5" y="58.5" width="28" height="263" fill="url(#jet)"/>
<path d="M910 268.5H916M910 215.5H916M910 163.5H916M910 110.5H916"/>
</g>
<text x="496" y="43" text-anchor="middle">H+ He++ Ions</text>
<text x="857" y="43">Log counts</text>
<g text-anchor="end">
<text x="120.5" y="106.6">10000</text>
<text x="120.5" y="175">1000</text>
<text x="120.5" y="243.6">100</text>
<text x="120.5" y="311.6">10</text>
</g>
<g text-anchor="middle">
<text x="133.5" y="351">21:00</text>
<text x="248.5" y="351">21:10</text>
<text x="363.5" y="351">21:20</text>
<text x="479.5" y="351">21:30</text>
<text x="594.5" y="351">21:40</text>
<text x="709.5" y="351">21:50</text>
<text x="825.5" y="351">22:00</text>
<text x="495.5" y="372">Time</text>
</g>
<text transform="translate(66 191.5) rotate(-90)" text-anchor="middle">Energy (eV)</text>
<text x="917" y="66.9">5</text>
<text x="917" y="118.4">4</text>
<text x="917" y="170.9">3</text>
<text x="917" y="223.4">2</text>
<text x="917" y="275.9">1</text>
<text x="917" y="328.4">0</text>

<!-- ============ AXES (bottom panel) ============ -->
<g fill="none" stroke="#000" stroke-width="1" shape-rendering="crispEdges" transform="translate(0 364)">
<rect x="133.5" y="57.5" width="729" height="263"/>
<path d="M133.5 320V327M248.5 320V327M363.5 320V327M479.5 320V327M594.5 320V327M709.5 320V327M825.5 320V327M133.5 57V50M248.5 57V50M363.5 57V50M479.5 57V50M594.5 57V50M709.5 57V50M825.5 57V50"/>
<path d="M125 304.5H133.5M125 236.5H133.5M125 167.5H133.5M125 99.5H133.5M862.5 304.5H870M862.5 236.5H870M862.5 167.5H870M862.5 99.5H870"/>
<path d="M129.5 319.5H133.5M129.5 314.5H133.5M129.5 310.5H133.5M129.5 307.5H133.5M129.5 283.5H133.5M129.5 271.5H133.5M129.5 263.5H133.5M129.5 256.5H133.5M129.5 251.5H133.5M129.5 246.5H133.5M129.5 242.5H133.5M129.5 239.5H133.5M129.5 215.5H133.5M129.5 203.5H133.5M129.5 194.5H133.5M129.5 188.5H133.5M129.5 182.5H133.5M129.5 178.5H133.5M129.5 174.5H133.5M129.5 170.5H133.5M129.5 147.5H133.5M129.5 135.5H133.5M129.5 126.5H133.5M129.5 119.5H133.5M129.5 114.5H133.5M129.5 109.5H133.5M129.5 106.5H133.5M129.5 102.5H133.5M129.5 78.5H133.5M129.5 66.5H133.5M129.5 58.5H133.5"/>
<path d="M862.5 319.5H866.5M862.5 314.5H866.5M862.5 310.5H866.5M862.5 307.5H866.5M862.5 283.5H866.5M862.5 271.5H866.5M862.5 263.5H866.5M862.5 256.5H866.5M862.5 251.5H866.5M862.5 246.5H866.5M862.5 242.5H866.5M862.5 239.5H866.5M862.5 215.5H866.5M862.5 203.5H866.5M862.5 194.5H866.5M862.5 188.5H866.5M862.5 182.5H866.5M862.5 178.5H866.5M862.5 174.5H866.5M862.5 170.5H866.5M862.5 147.5H866.5M862.5 135.5H866.5M862.5 126.5H866.5M862.5 119.5H866.5M862.5 114.5H866.5M862.5 109.5H866.5M862.5 106.5H866.5M862.5 102.5H866.5M862.5 78.5H866.5M862.5 66.5H866.5M862.5 58.5H866.5"/>
<rect x="884.5" y="58.5" width="28" height="263" fill="url(#jet)"/>
<path d="M910 268.5H916M910 215.5H916M910 163.5H916M910 110.5H916"/>
</g>
<text x="496" y="407" text-anchor="middle">Other Ions</text>
<text x="857" y="407">Log counts</text>
<g text-anchor="end">
<text x="120.5" y="470.6">10000</text>
<text x="120.5" y="539">1000</text>
<text x="120.5" y="607.6">100</text>
<text x="120.5" y="675.6">10</text>
</g>
<g text-anchor="middle">
<text x="133.5" y="715">21:00</text>
<text x="248.5" y="715">21:10</text>
<text x="363.5" y="715">21:20</text>
<text x="479.5" y="715">21:30</text>
<text x="594.5" y="715">21:40</text>
<text x="709.5" y="715">21:50</text>
<text x="825.5" y="715">22:00</text>
<text x="495.5" y="736">Time</text>
</g>
<text transform="translate(66 555.5) rotate(-90)" text-anchor="middle">Energy (eV)</text>
<text x="917" y="430.9">5</text>
<text x="917" y="482.4">4</text>
<text x="917" y="534.9">3</text>
<text x="917" y="587.4">2</text>
<text x="917" y="639.9">1</text>
<text x="917" y="692.4">0</text>
</svg>
</body></html>
